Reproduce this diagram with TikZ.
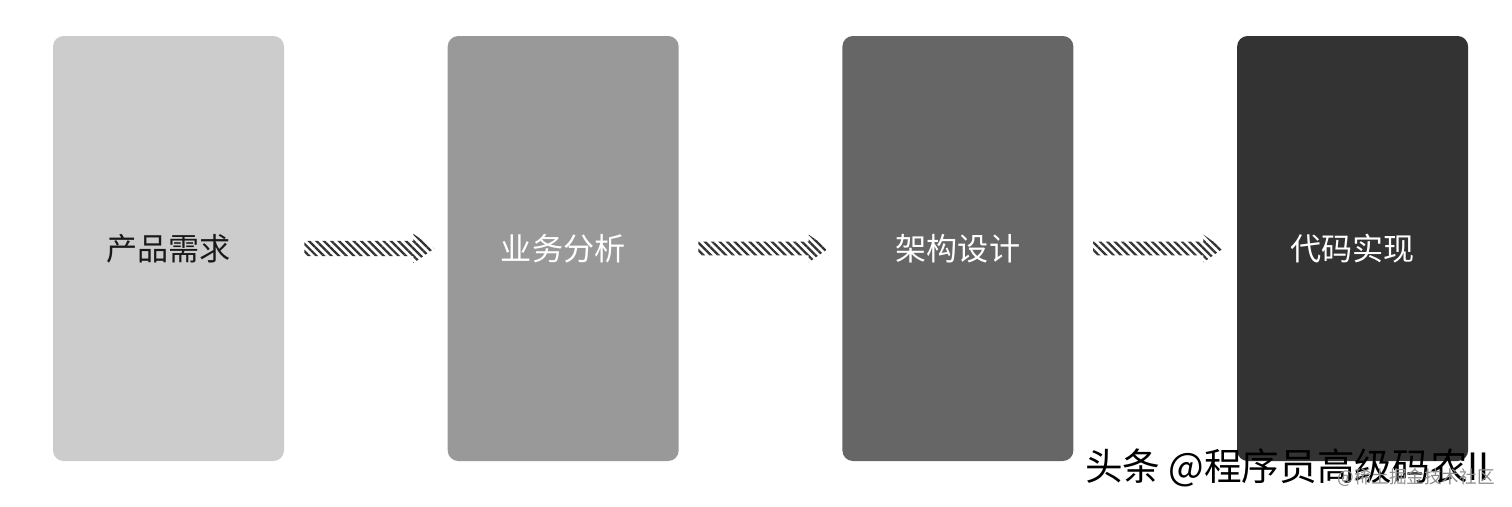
\documentclass[tikz,border=0pt]{standalone}
\usepackage{fontspec}
\newfontfamily\cjk{Noto Sans CJK SC}
\usepackage{xcolor}
\usetikzlibrary{shapes.arrows,positioning,patterns.meta}
\definecolor{stepone}{RGB}{204,204,204}
\definecolor{steptwo}{RGB}{153,153,153}
\definecolor{stepthree}{RGB}{102,102,102}
\definecolor{stepfour}{RGB}{51,51,51}

\begin{document}
\begin{tikzpicture}[
        stage/.style={
            rectangle,
            rounded corners=6pt,
            minimum width=4.62cm,
            minimum height=8.5cm,
            draw=none,
            text=white,
            font=\cjk\fontsize{17.7}{20}\selectfont,
            align=center
        },
        hatcharrow/.style={
            single arrow,
            draw=none,
            minimum height=2.6cm,
            inner xsep=0pt,
            inner ysep=0.13cm,
            single arrow head extend=0.14cm,
            single arrow tip angle=70,
            pattern={Lines[angle=-45,distance=3pt,line width=1.3pt]},
            pattern color=black!80
        },
        mark text/.style={
            font=\cjk\fontsize{21.4}{24}\selectfont,
            text=black,
            inner sep=0pt
        }
    ]
    % canvas
    \useasboundingbox (0,0) rectangle (30.24,10.12);
    
    % four stages from left to right
    \node[stage, fill=stepone, text=black!90] (req) at (3.37,5.15) {产品需求};
    \node[stage, fill=steptwo, right=3.26cm of req] (ana) {业务分析};
    \node[stage, fill=stepthree, right=3.26cm of ana] (arch) {架构设计};
    \node[stage, fill=stepfour, right=3.26cm of arch] (code) {代码实现};
    
    % hatched arrows between the stages
    \path (req) -- (ana) node[hatcharrow, midway, xshift=-0.04cm] (a1) {};
    \path (ana) -- (arch) node[hatcharrow, midway, xshift=-0.04cm] (a2) {};
    \path (arch) -- (code) node[hatcharrow, midway, xshift=-0.04cm] (a3) {};
    
    % watermark
    \node[mark text, anchor=east] (wm) at (29.8,0.76) {头条 @程序员高级码农II};
    \node[mark text, font=\cjk\fontsize{10}{12}\selectfont, text=black!45, anchor=east] (wm2) at (29.9,0.56) {@稀土掘金技术社区};
    
\end{tikzpicture}
\end{document}
